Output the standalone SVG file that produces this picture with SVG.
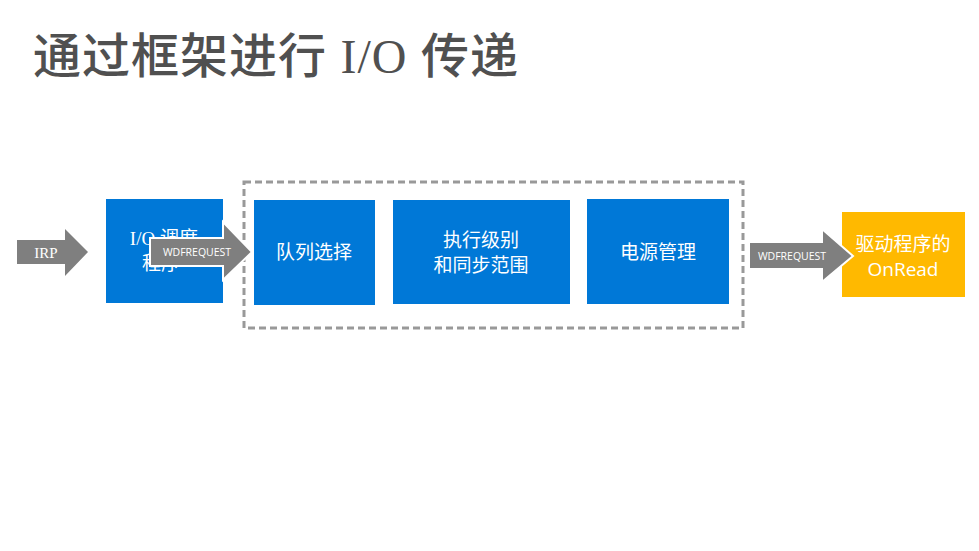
<svg xmlns="http://www.w3.org/2000/svg" width="979" height="551" viewBox="0 0 979 551">
<style>
.box{fill:#0078D7}
.t{font-family:"Open Sans","Noto Sans CJK SC",sans-serif;font-size:19px;fill:#fff;text-anchor:middle}
.arr{fill:#7f7f7f;stroke:#fff;stroke-width:2}
.lbl{font-family:"Open Sans","Liberation Sans",sans-serif;font-size:10.5px;fill:#fff;text-anchor:middle}
</style>
<rect width="979" height="551" fill="#fff"/>
<text x="33" y="73" font-family="'Open Sans','Noto Sans CJK SC',sans-serif" font-size="48" font-weight="500" letter-spacing="1" fill="#505050">通过框架进行 <tspan font-family="'Liberation Serif',serif">I/O</tspan> 传递</text>
<g id="container">
<rect x="244" y="182" width="499" height="146" fill="none" stroke="#999" stroke-width="3" stroke-dasharray="7,4"/>
</g>
<g id="dispatcher">
<rect class="box" x="106" y="199" width="117" height="104"/>
<text class="t" x="164" y="245"><tspan font-family="'Liberation Serif','Noto Sans CJK SC',serif">I/O</tspan> 调度</text>
<text class="t" x="161" y="270">程序</text>
</g>
<g id="queue">
<rect class="box" x="254" y="200" width="121" height="105"/>
<text class="t" x="314" y="259">队列选择</text>
</g>
<g id="exec">
<rect class="box" x="393" y="200" width="177" height="104"/>
<text class="t" x="481" y="247">执行级别</text>
<text class="t" x="481" y="272">和同步范围</text>
</g>
<g id="power">
<rect class="box" x="587" y="199" width="142" height="105"/>
<text class="t" x="658" y="259">电源管理</text>
</g>
<g id="onread">
<rect x="842" y="212" width="123" height="85" fill="#FFB900"/>
<text class="t" x="903" y="251">驱动程序的</text>
<text class="t" x="903" y="276">OnRead</text>
</g>
<g id="connectors">
<g id="irp">
<polygon fill="#7f7f7f" points="17,240 65,240 65,229 88,252 65,276 65,264 17,264"/>
<text x="46" y="258" font-family="'Liberation Serif',serif" font-size="15" fill="#fff" text-anchor="middle">IRP</text>
</g>
<g id="req1">
<polygon class="arr" points="150,238 223,238 223,222 252,252 223,280 223,266 150,266"/>
<text class="lbl" x="197" y="256">WDFREQUEST</text>
</g>
<g id="req2">
<polygon class="arr" points="749,242 822,242 822,229 853,256 822,282 822,269 749,269"/>
<text class="lbl" x="792" y="260">WDFREQUEST</text>
</g>
</g>
</svg>
